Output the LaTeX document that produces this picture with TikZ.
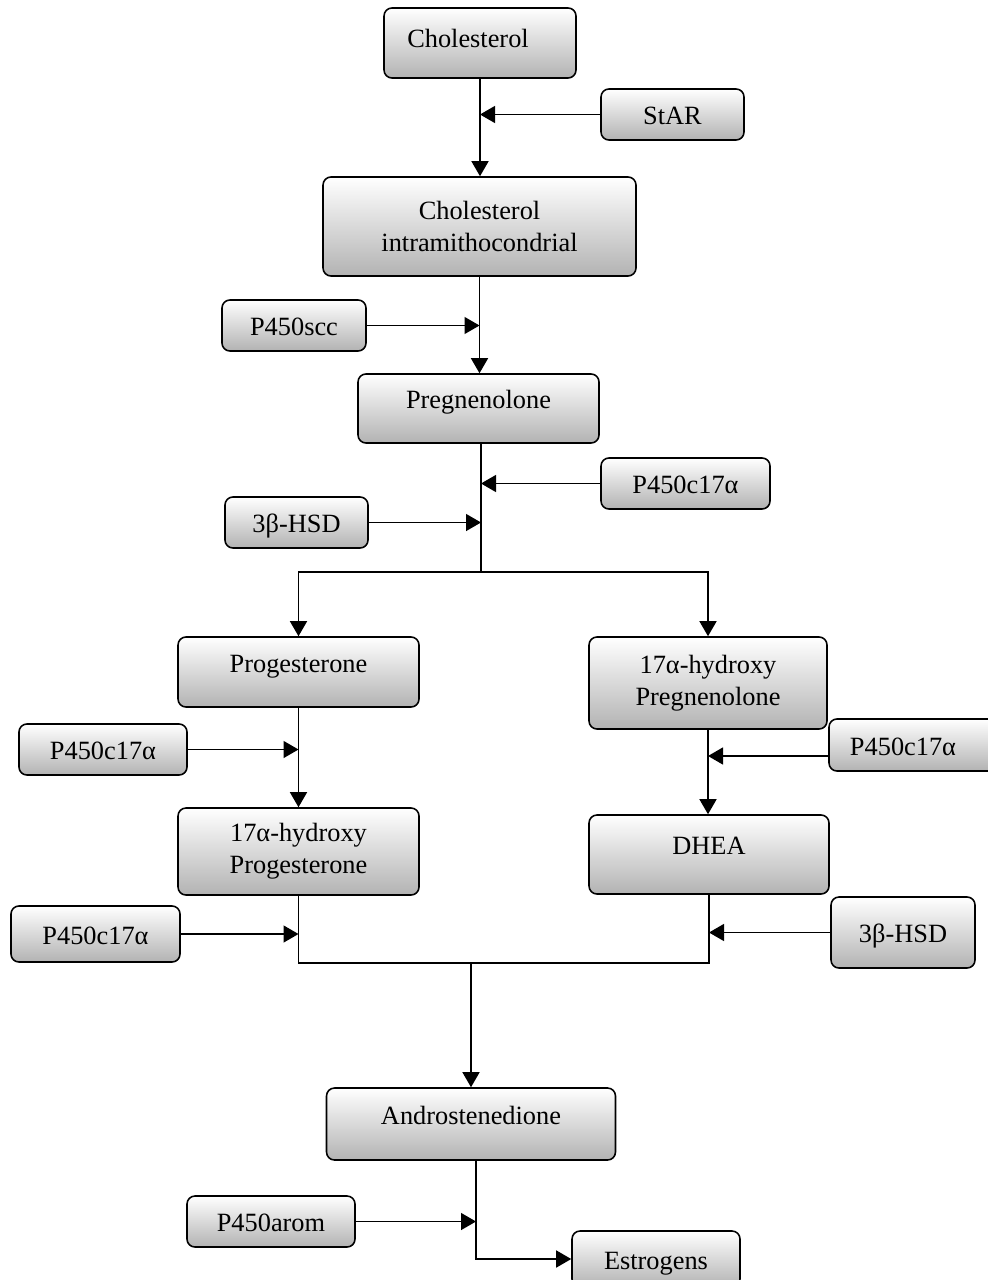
\documentclass[tikz,border=0pt]{standalone}
\usepackage{fontspec}
\setmainfont{Liberation Serif}
\usetikzlibrary{arrows.meta}

\begin{document}
\begin{tikzpicture}[x=0.02cm, y=-0.02cm,
  cell_box/.style={draw, line width=0.9pt, rounded corners=4.5pt, top color=white, bottom color=black!30, align=center, inner sep=2pt, font=\fontsize{15}{18}\selectfont},
  one_row/.style={text height=0.4cm, text depth=0.4cm},
  enzyme_row/.style={text height=0.4cm, text depth=0pt},
  flow/.style={line width=0.8pt, -{Triangle[length=0.3cm, width=0.34cm]}},
  link/.style={line width=0.8pt}]
  \useasboundingbox (0,0) rectangle (987,1280);
  % draw rounded cell boxes for the pathway
  \node[cell_box, text height=0.6cm, text depth=0.4cm, minimum width=3.84cm, minimum height=1.40cm] (chol_box) at (480,43) {\hspace*{-0.48cm}Cholesterol};
  \node[cell_box, minimum width=6.26cm, minimum height=1.98cm] (cholim_box) at (479.5,226.5) {Cholesterol\\intramithocondrial};
  \node[cell_box, one_row, minimum width=4.82cm, minimum height=1.38cm] (preg_box) at (478.5,408.5) {Pregnenolone};
  \node[cell_box, one_row, minimum width=4.82cm, minimum height=1.40cm] (prog_box) at (298.5,672) {Progesterone};
  \node[cell_box, minimum width=4.76cm, minimum height=1.84cm] (ohpreg_box) at (708,683) {17α-hydroxy\\Pregnenolone};
  \node[cell_box, minimum width=4.82cm, minimum height=1.74cm] (ohprog_box) at (298.5,851.5) {17α-hydroxy\\Progesterone};
  \node[cell_box, one_row, minimum width=4.80cm, minimum height=1.58cm] (dhea_box) at (709,854.5) {DHEA};
  \node[cell_box, one_row, minimum width=5.78cm, minimum height=1.44cm] (andro_box) at (471,1124) {Androstenedione};
  \node[cell_box, enzyme_row, minimum width=3.36cm, minimum height=1.12cm] (estro_box) at (656,1259) {Estrogens};
  % draw enzyme boxes
  \node[cell_box, enzyme_row, minimum width=2.86cm, minimum height=1.02cm] (star_box) at (672.5,114.5) {StAR};
  \node[cell_box, enzyme_row, minimum width=2.88cm, minimum height=1.02cm] (scc_box) at (294,325.5) {P450scc};
  \node[cell_box, enzyme_row, minimum width=3.38cm, minimum height=1.02cm] (c17a_box) at (685.5,483.5) {P450c17α};
  \node[cell_box, enzyme_row, minimum width=2.86cm, minimum height=1.02cm] (hsd1_box) at (296.5,522.5) {3β-HSD};
  \node[cell_box, enzyme_row, minimum width=3.36cm, minimum height=1.02cm] (c17b_box) at (103,749.5) {P450c17α};
  \node[cell_box, enzyme_row, minimum width=3.36cm, minimum height=1.04cm] (c17c_box) at (913,745) {\hspace*{-0.4cm}P450c17α};
  \node[cell_box, enzyme_row, minimum width=3.38cm, minimum height=1.12cm] (c17d_box) at (95.5,934) {P450c17α};
  \node[cell_box, enzyme_row, minimum width=2.88cm, minimum height=1.42cm] (hsd2_box) at (903,932.5) {3β-HSD};
  \node[cell_box, enzyme_row, minimum width=3.36cm, minimum height=1.02cm] (arom_box) at (271,1221.5) {P450arom};
  % draw main stem
  \draw[flow] (chol_box.south) -- (chol_box.south |- cholim_box.north);
  \draw[flow] (star_box.west) -- (star_box.west -| chol_box.south);
  \draw[flow] (cholim_box.south) -- (cholim_box.south |- preg_box.north);
  \draw[flow] (scc_box.east) -- (scc_box.east -| cholim_box.south);
  \coordinate (split_top) at (481,572);
  \draw[link] (split_top |- preg_box.south) -- (split_top);
  \draw[flow] (c17a_box.west) -- (c17a_box.west -| split_top);
  \draw[flow] (hsd1_box.east) -- (hsd1_box.east -| split_top);
  % draw the two branches
  \draw[flow] (split_top) -| (prog_box.north);
  \draw[flow] (split_top) -| (ohpreg_box.north);
  \draw[flow] (prog_box.south) -- (ohprog_box.north);
  \draw[flow] (c17b_box.east) -- (c17b_box.east -| prog_box.south);
  \draw[flow] (ohpreg_box.south) -- (ohpreg_box.south |- dhea_box.north);
  \draw[flow] ([yshift=-0.22cm]c17c_box.west) -- ([yshift=-0.22cm]c17c_box.west -| ohpreg_box.south);
  % join branches into androstenedione
  \coordinate (merge_mid) at (471,963);
  \draw[link] (ohprog_box.south) |- (merge_mid) -| (dhea_box.south);
  \draw[flow] (c17d_box.east) -- (c17d_box.east -| ohprog_box.south);
  \draw[flow] (hsd2_box.west) -- (hsd2_box.west -| dhea_box.south);
  \draw[flow] (merge_mid) -- (andro_box.north);
  \coordinate (andro_out) at ([xshift=0.1cm]andro_box.south);
  \draw[flow] (andro_out) |- (estro_box.west);
  \draw[flow] (arom_box.east) -- (arom_box.east -| andro_out);
\end{tikzpicture}
\end{document}
